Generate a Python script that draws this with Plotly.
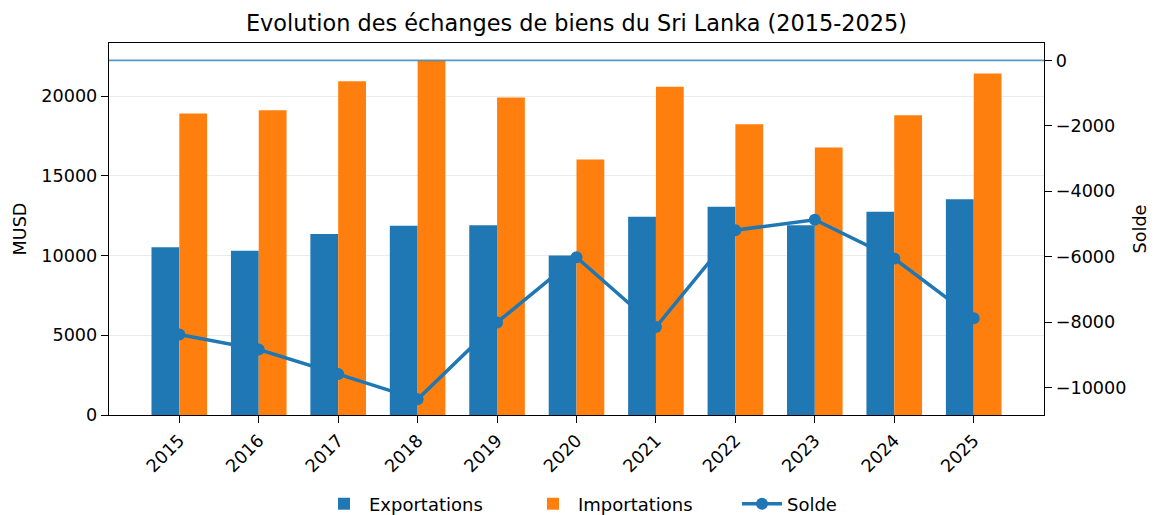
import plotly.graph_objects as go

years = ["2015", "2016", "2017", "2018", "2019", "2020", "2021", "2022", "2023", "2024", "2025"]
exportations = [10530, 10300, 11350, 11870, 11910, 10010, 12440, 13060, 11910, 12750, 13540]
importations = [18910, 19120, 20940, 22230, 19920, 16030, 20590, 18250, 16780, 18810, 21420]
solde = [-8380, -8840, -9590, -10360, -8010, -6020, -8150, -5190, -4870, -6060, -7880]

left_ticks = [0, 5000, 10000, 15000, 20000]
right_ticks = [-10000, -8000, -6000, -4000, -2000, 0]

BLUE = "#1f77b4"
ORANGE = "#ff7f0e"
FONT = "DejaVu Sans"

# The page body has an 8px default margin: the figure is sized/offset to compensate.
OFF = 8
W, H = 1158 - OFF, 515 - OFF
PLOT_L, PLOT_R = 109, 1044

fig = go.Figure()
fig.add_trace(go.Bar(x=years, y=exportations, name="Exportations", marker_color=BLUE,
                     marker_line_width=0, yaxis="y"))
fig.add_trace(go.Bar(x=years, y=importations, name="Importations", marker_color=ORANGE,
                     marker_line_width=0, yaxis="y"))
fig.add_trace(go.Scatter(x=years, y=solde, name="Solde", mode="lines+markers", yaxis="y2",
                         line=dict(color=BLUE, width=3.5), marker=dict(color=BLUE, size=12)))

fig.add_shape(type="line", xref="paper", yref="y2", x0=0, x1=1, y0=0, y1=0,
              line=dict(color="rgba(31,119,180,0.75)", width=1.6), layer="above")

axis_common = dict(showline=True, linecolor="black", linewidth=1.4, ticks="outside",
                   ticklen=7, tickwidth=1.4, tickcolor="black", automargin=False,
                   tickfont=dict(family=FONT, size=17.6, color="black"))

fig.update_layout(
    width=W, height=H,
    margin=dict(l=PLOT_L - OFF, r=1158 - PLOT_R, t=43 - OFF, b=100),
    paper_bgcolor="white", plot_bgcolor="white",
    font=dict(family=FONT, size=18, color="black"),
    title=dict(text="Evolution des échanges de biens du Sri Lanka (2015-2025)",
               xref="paper", x=0.5, xanchor="center",
               yref="container", y=1 - (23 - OFF) / H, yanchor="middle",
               font=dict(family=FONT, size=22.4, color="black")),
    barmode="group", bargap=0.3, bargroupgap=0,
    showlegend=True,
    legend=dict(orientation="h", xref="paper", x=(319 - PLOT_L) / (PLOT_R - PLOT_L),
                xanchor="left", yref="container",
                y=(H - (504 - OFF)) / H, yanchor="middle",
                font=dict(family=FONT, size=18, color="black"), itemwidth=40,
                entrywidth=154, entrywidthmode="pixels",
                traceorder="normal"),
    xaxis=dict(type="category", range=[-0.885, 10.885], tickangle=-45, mirror=True,
               showgrid=False, **axis_common),
    yaxis=dict(range=[0, 23340], tickvals=left_ticks, tickformat="d", mirror=True,
               showgrid=True, gridcolor="#ebebeb", gridwidth=1.4, zeroline=False,
               title=dict(text="MUSD", font=dict(family=FONT, size=17.6, color="black"), standoff=10),
               **axis_common),
    yaxis2=dict(overlaying="y", side="right", range=[-10840, 530], tickvals=right_ticks,
                tickformat="d", showgrid=False, zeroline=False,
                title=dict(text="Solde", font=dict(family=FONT, size=17.6, color="black"), standoff=8),
                **axis_common),
)

fig.write_html("out.html")
